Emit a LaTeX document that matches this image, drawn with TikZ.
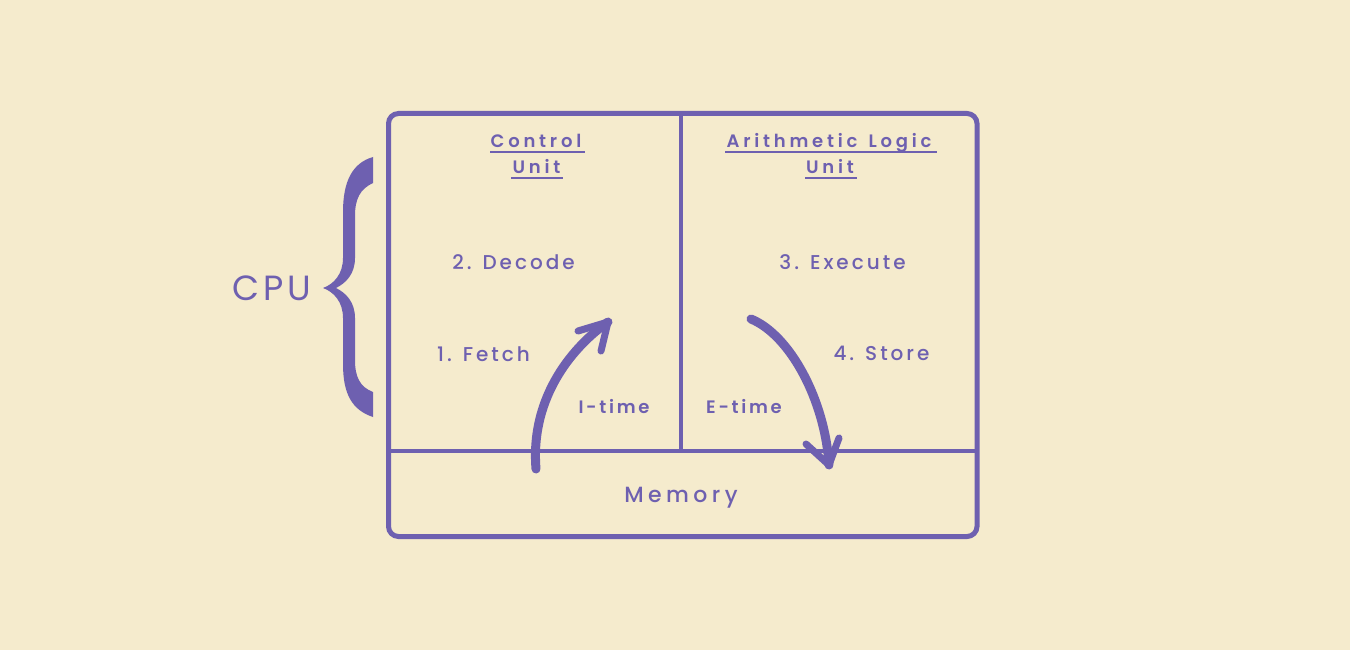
\documentclass[tikz,border=0pt]{standalone}
\usepackage{fontspec}
\setmainfont{Poppins}
\newfontfamily\qsb[LetterSpace=15]{Poppins Medium}
\newfontfamily\qst[LetterSpace=21]{Poppins SemiBold}
\newfontfamily\qsi[LetterSpace=15]{Poppins SemiBold}
\newfontfamily\qsm[LetterSpace=20]{Poppins Medium}
\newfontfamily\qsc[LetterSpace=11.5]{Poppins}
\definecolor{bg}{HTML}{F5EBCD}
\definecolor{pu}{HTML}{6E60B0}
\tikzset{
  lbl/.style={text=pu, font=\qsb\fontsize{20}{24}\selectfont, inner sep=0pt, anchor=base},
  ttl/.style={text=pu, font=\qst\fontsize{18}{22}\selectfont, inner sep=0pt, anchor=base},
  tm/.style={text=pu, font=\qsi\fontsize{18}{22}\selectfont, inner sep=0pt, anchor=base},
  frame/.style={draw=pu, line width=5pt, rounded corners=10pt},
  div/.style={draw=pu, line width=4pt},
  bigarrow/.style={draw=pu, line width=9pt, line cap=round, line join=round},
  barb/.style={draw=pu, line width=7pt, line cap=round, line join=round},
  uline/.style={draw=pu, line width=2pt},
}
\begin{document}
\begin{tikzpicture}[x=1pt,y=-1pt]
\fill[bg] (0,0) rectangle (1350,650);
\useasboundingbox (0,0) rectangle (1350,650);
% frame
\draw[frame] (388.5,113.5) rectangle (977,536.5);
\coordinate (dtop) at (681,113);
\coordinate (dbot) at (681,451);
\coordinate (hl) at (388,451);
\coordinate (hr) at (977,451);
\draw[div] (dtop) -- (dbot);
\draw[div] (hl) -- (hr);
% titles
\node[ttl] (cu1) at (536,148) {Control};
\node[ttl] (cu2) at (536.5,174) {Unit};
\node[ttl] (alu1) at (829,148) {Arithmetic \hspace{3pt}Logic};
\node[ttl] (alu2) at (830,174) {Unit};
\draw[uline] (490,152) -- (585,152);
\draw[uline] (511,178) -- (563,178);
\draw[uline] (725,152) -- (937,152);
\draw[uline] (805,178) -- (857,178);
% steps
\node[lbl] (dec) at (513.5,269) {2. Decode};
\node[lbl] (exe) at (842.5,269) {3. Execute};
\node[lbl] (fet) at (483.5,361) {1. Fetch};
\node[lbl] (sto) at (881.5,360) {4. Store};
\node[tm] (it) at (614,413) {I-time};
\node[tm] (et) at (744,413) {E-time};
\node[text=pu, font=\qsm\fontsize{22}{26}\selectfont, inner sep=0pt, anchor=base] (mem) at (681,502) {Memory};
\node[text=pu, font=\qsc\fontsize{35}{40}\selectfont, inner sep=0pt, anchor=base] (cpu) at (272,300.5) {CPU};
% brace
\fill[pu] (373,157) .. controls (352,163) and (343,182) .. (343,212) -- (343,258)
  .. controls (343,274) and (334,284) .. (323,288)
  .. controls (334,292) and (343,302) .. (343,318) -- (343,364)
  .. controls (343,394) and (352,410) .. (373,417) -- (373,392)
  .. controls (360,387) and (355,377) .. (355,360) -- (355,318)
  .. controls (355,302) and (346,293) .. (336,288)
  .. controls (346,283) and (355,274) .. (355,258) -- (355,216)
  .. controls (355,199) and (360,189) .. (373,183) -- cycle;
% I-time arrow
\coordinate (ia) at (536,469);
\coordinate (ib) at (608,322);
\coordinate (ib1) at (578,331);
\coordinate (ib2) at (601,351);
\draw[bigarrow] (ia) .. controls (530,395) and (575,345) .. (ib);
\draw[barb] (ib1) -- (ib) -- (ib2);
% E-time arrow
\coordinate (ea) at (751,319);
\coordinate (eb) at (829,465);
\coordinate (eb1) at (806,444);
\coordinate (eb2) at (839,438);
\draw[bigarrow] (ea) .. controls (790,335) and (825,400) .. (eb);
\draw[barb] (eb1) -- (eb) -- (eb2);
\end{tikzpicture}
\end{document}
